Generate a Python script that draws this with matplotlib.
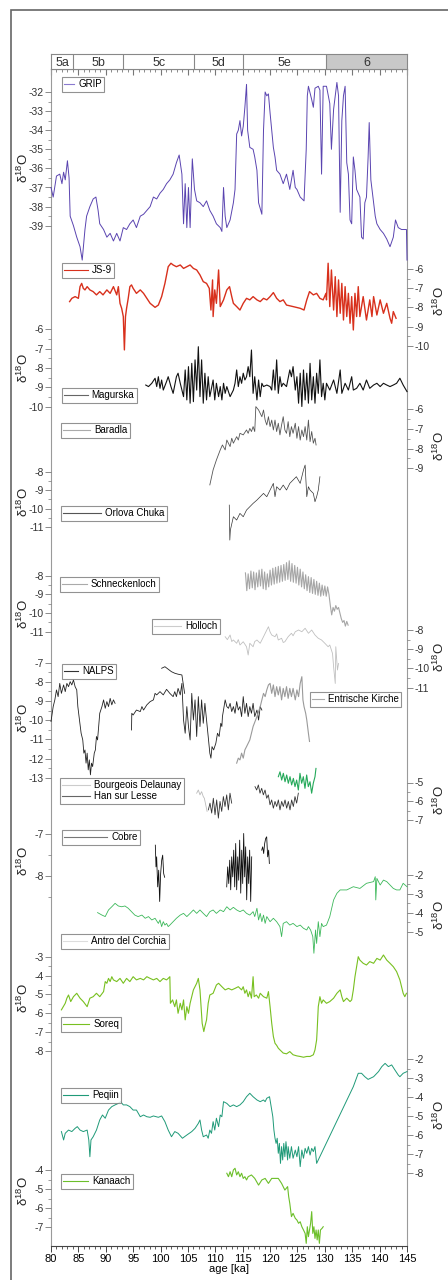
import numpy as np
import matplotlib
matplotlib.use('Agg')
import matplotlib.pyplot as plt
from matplotlib.ticker import MultipleLocator
from matplotlib.lines import Line2D
from matplotlib.patches import Rectangle

plt.rcParams['font.family'] = ['Liberation Sans', 'DejaVu Sans']
plt.rcParams['axes.unicode_minus'] = False
plt.rcParams['mathtext.default'] = 'regular'

# ---- data: columns = age [ka], d18O ----
stage_names = ['5a', '5b', '5c', '5d', '5e', '6']
stage_bounds = [80, 84.1, 93.2, 106.2, 115.1, 130.2, 145]

grip = np.array([
    [80.0, -37.0], [80.4, -37.5], [81.0, -36.4], [81.6, -36.3], [82.0, -36.8], [82.3, -36.2],
    [82.6, -36.6], [83.0, -35.6], [83.3, -36.5], [83.5, -38.5], [84.1, -39.0], [84.7, -39.6],
    [85.3, -40.1], [85.7, -40.8], [86.2, -39.2], [86.5, -38.5], [87.1, -38.0], [87.7, -37.6],
    [88.2, -37.5], [88.6, -38.2], [88.9, -38.9], [89.6, -39.2], [90.2, -39.6], [90.8, -39.4],
    [91.4, -39.8], [92.0, -39.4], [92.6, -39.8], [93.2, -39.1], [93.8, -39.2], [94.4, -38.9],
    [95.0, -38.7], [95.6, -39.1], [96.3, -38.5], [96.9, -38.4], [97.5, -38.2], [98.1, -38.0],
    [98.7, -37.5], [99.3, -37.6], [99.9, -37.3], [100.5, -37.1], [101.1, -36.8], [101.7, -36.6],
    [102.3, -36.3], [102.9, -35.7], [103.4, -35.3], [103.9, -36.3], [104.2, -38.9], [104.5, -36.8],
    [104.8, -39.1], [105.1, -37.0], [105.4, -39.1], [105.8, -35.5], [106.2, -37.1], [106.6, -37.7],
    [107.2, -37.8], [107.8, -38.0], [108.4, -37.7], [109.0, -38.2], [109.6, -38.5], [110.2, -38.9],
    [110.9, -39.1], [111.2, -39.3], [111.5, -37.0], [111.8, -38.5], [112.1, -39.1], [112.7, -38.7],
    [113.3, -37.8], [113.6, -37.1], [113.9, -34.2], [114.2, -34.0], [114.5, -33.5], [114.8, -34.3],
    [115.1, -33.8], [115.4, -32.8], [115.7, -31.6], [115.9, -34.0], [116.3, -34.9], [116.9, -35.0],
    [117.2, -35.4], [117.6, -36.1], [117.9, -37.8], [118.5, -38.4], [118.8, -34.0], [119.1, -32.0],
    [119.4, -32.2], [119.7, -32.1], [120.0, -33.1], [120.3, -34.0], [120.6, -34.9], [120.9, -35.4],
    [121.2, -36.1], [121.8, -36.3], [122.4, -36.8], [123.0, -36.3], [123.6, -37.1], [124.2, -36.1],
    [124.6, -37.0], [124.9, -37.1], [125.5, -37.5], [126.2, -37.7], [126.6, -35.0], [126.8, -32.2],
    [127.0, -31.7], [127.6, -32.4], [127.9, -32.8], [128.2, -31.8], [128.8, -31.7], [129.1, -31.9],
    [129.4, -36.3], [129.7, -31.7], [130.3, -31.7], [130.9, -32.6], [131.2, -35.0], [131.6, -32.9],
    [132.2, -31.5], [132.5, -32.2], [132.8, -38.3], [133.1, -33.5], [133.4, -32.2], [133.7, -31.7],
    [134.0, -35.7], [134.3, -36.3], [134.6, -38.7], [134.9, -38.9], [135.2, -35.4], [135.5, -36.1],
    [135.8, -37.1], [136.4, -37.5], [136.7, -39.6], [137.0, -39.7], [137.3, -37.8], [137.6, -37.5],
    [137.9, -35.4], [138.1, -33.6], [138.4, -36.6], [138.9, -37.8], [139.2, -38.5], [139.5, -38.9],
    [140.1, -39.2], [140.7, -39.4], [141.3, -39.7], [141.9, -40.1], [142.5, -39.6], [142.9, -38.7],
    [143.4, -39.1], [144.0, -39.2], [144.6, -39.2], [144.9, -39.2], [145.0, -40.8],
])

js9 = np.array([
    [83.4, -7.70], [83.8, -7.53], [84.4, -7.44], [85.0, -7.53], [85.3, -6.92], [85.6, -6.75],
    [85.9, -7.01], [86.2, -7.09], [86.6, -6.92], [87.1, -7.09], [87.7, -7.18], [88.3, -7.35],
    [88.9, -7.18], [89.5, -7.35], [90.2, -7.09], [90.8, -7.27], [91.4, -6.92], [92.0, -7.35],
    [92.3, -6.92], [92.6, -7.79], [92.9, -8.05], [93.2, -8.48], [93.4, -10.22], [93.6, -8.48],
    [93.8, -8.05], [94.1, -7.53], [94.4, -6.92], [94.7, -6.83], [95.0, -7.01], [95.6, -7.27],
    [96.3, -7.09], [96.9, -7.27], [97.5, -7.53], [98.1, -7.79], [99.0, -8.00], [99.6, -7.88],
    [100.2, -7.44], [100.8, -6.75], [101.4, -5.88], [101.9, -5.70], [102.3, -5.79], [102.9, -5.88],
    [103.6, -5.79], [104.2, -5.97], [104.8, -5.88], [105.4, -5.79], [106.0, -5.97], [106.6, -6.05],
    [107.2, -6.31], [107.8, -6.66], [108.4, -6.75], [108.9, -7.01], [109.2, -8.14], [109.5, -6.57],
    [109.6, -8.48], [109.9, -7.09], [110.2, -7.79], [110.6, -6.05], [110.9, -7.96], [111.5, -7.61],
    [112.1, -7.09], [112.6, -6.92], [113.0, -7.44], [113.3, -7.79], [113.9, -7.96], [114.5, -8.14],
    [115.1, -7.79], [115.7, -7.53], [116.3, -7.61], [116.9, -7.44], [117.6, -7.61], [118.2, -7.70],
    [118.8, -7.53], [119.4, -7.61], [120.0, -7.44], [120.6, -7.23], [121.2, -7.53], [121.8, -7.70],
    [122.4, -7.61], [123.0, -7.88], [124.2, -7.96], [125.5, -8.05], [126.2, -8.14], [126.7, -7.61],
    [127.2, -7.18], [127.9, -7.35], [128.5, -7.27], [129.1, -7.53], [129.7, -7.61], [130.2, -7.27],
    [130.3, -7.61], [130.6, -5.70], [130.9, -7.96], [131.2, -6.05], [131.6, -8.14], [131.9, -6.40],
    [132.2, -8.48], [132.5, -6.57], [132.8, -8.31], [133.1, -6.75], [133.4, -8.66], [133.7, -6.92],
    [134.0, -8.48], [134.3, -7.27], [134.6, -8.83], [134.9, -7.44], [135.2, -9.18], [135.5, -7.27],
    [135.8, -8.48], [136.1, -6.92], [136.4, -8.48], [137.0, -7.44], [137.6, -8.66], [138.2, -7.61],
    [138.6, -8.48], [138.9, -7.44], [139.5, -8.40], [140.1, -7.61], [140.7, -8.31], [141.3, -7.79],
    [141.9, -8.57], [142.2, -8.83], [142.5, -8.22], [143.0, -8.57],
])

magurska = np.array([
    [97.3, -8.88], [97.8, -8.96], [98.4, -8.79], [99.0, -8.53], [99.3, -8.96], [99.6, -8.45],
    [99.9, -9.05], [100.2, -8.62], [100.5, -9.14], [101.1, -8.70], [101.4, -8.45], [101.9, -8.96],
    [102.3, -9.31], [102.9, -8.45], [103.2, -8.27], [103.6, -8.79], [104.2, -9.48], [104.5, -8.10],
    [104.8, -9.65], [105.1, -7.93], [105.4, -9.82], [105.7, -7.76], [106.0, -9.74], [106.3, -7.58],
    [106.6, -9.14], [106.9, -6.90], [107.2, -9.48], [107.5, -7.58], [107.8, -9.82], [108.1, -8.27],
    [108.4, -9.65], [108.7, -8.45], [109.0, -9.48], [109.6, -8.62], [109.9, -9.65], [110.2, -8.79],
    [110.6, -9.48], [110.9, -8.96], [111.2, -9.65], [111.5, -8.79], [111.8, -9.31], [112.1, -8.96],
    [112.7, -9.48], [113.3, -9.14], [113.6, -8.79], [113.9, -8.10], [114.2, -8.96], [114.5, -8.45],
    [114.8, -8.79], [115.1, -8.27], [115.4, -8.62], [115.7, -8.45], [116.0, -7.93], [116.3, -8.45],
    [116.6, -7.07], [116.9, -9.31], [117.2, -8.45], [117.6, -9.65], [117.9, -8.62], [118.2, -9.48],
    [118.5, -8.79], [118.8, -8.96], [119.4, -8.88], [120.0, -8.96], [120.3, -9.14], [120.6, -8.10],
    [120.9, -9.14], [121.2, -7.58], [121.5, -9.31], [121.8, -8.45], [122.1, -8.96], [122.4, -8.79],
    [123.0, -8.96], [123.6, -8.10], [123.9, -8.45], [124.2, -7.93], [124.6, -9.14], [124.9, -8.45],
    [125.2, -9.82], [125.5, -8.27], [125.8, -9.99], [126.1, -8.10], [126.4, -9.65], [126.7, -8.27],
    [127.0, -9.82], [127.3, -7.76], [127.6, -9.65], [127.9, -8.45], [128.2, -9.82], [128.5, -8.27],
    [128.8, -9.31], [129.1, -7.58], [129.4, -9.48], [129.7, -8.79], [130.0, -9.65], [130.3, -8.79],
    [130.9, -9.14], [131.6, -8.62], [132.2, -9.31], [132.8, -8.10], [133.1, -9.31], [133.7, -8.79],
    [134.3, -9.14], [134.9, -8.45], [135.2, -9.14], [135.8, -9.05], [136.4, -8.79], [137.0, -9.14],
    [137.6, -8.62], [138.2, -9.05], [138.9, -8.88], [139.5, -8.79], [140.1, -8.96], [140.7, -8.79],
    [141.3, -8.88], [141.9, -8.96], [142.5, -8.88], [143.1, -8.79], [143.7, -8.53], [144.3, -8.88],
    [145.0, -9.22],
])

baradla = np.array([
    [109.0, -9.84], [109.6, -9.08], [110.2, -8.58], [110.9, -8.07], [111.3, -7.82], [111.8, -8.07],
    [112.1, -7.57], [112.7, -7.90], [113.0, -7.48], [113.3, -7.73], [113.9, -7.40], [114.2, -7.57],
    [114.5, -7.23], [115.1, -7.31], [115.7, -7.06], [116.0, -7.23], [116.3, -6.98], [116.6, -7.14],
    [116.9, -6.89], [117.2, -7.14], [117.4, -5.88], [117.9, -6.05], [118.2, -6.22], [118.5, -6.39],
    [118.8, -6.05], [119.1, -6.56], [119.4, -6.81], [119.7, -6.39], [120.0, -6.89], [120.3, -6.56],
    [120.6, -7.06], [120.9, -6.56], [121.2, -7.14], [121.5, -6.72], [121.8, -7.31], [122.1, -6.81],
    [122.4, -6.39], [122.7, -7.06], [123.0, -7.23], [123.3, -6.64], [123.6, -7.40], [123.9, -6.89],
    [124.2, -7.23], [124.6, -6.72], [124.9, -7.48], [125.2, -6.89], [125.5, -7.57], [125.8, -7.06],
    [126.1, -7.40], [126.4, -6.89], [126.7, -7.57], [127.0, -6.56], [127.3, -7.65], [127.6, -7.14],
    [127.9, -7.73], [128.2, -7.48], [128.4, -7.82],
])

orlova = np.array([
    [112.55, -9.80], [112.65, -11.69], [112.75, -11.15], [113.3, -10.43], [113.9, -10.61],
    [114.5, -10.25], [115.1, -10.43], [115.7, -10.07], [116.3, -9.89], [116.9, -9.71],
    [117.6, -9.53], [118.2, -9.35], [118.8, -9.17], [119.4, -9.35], [120.0, -8.99],
    [120.6, -8.63], [120.9, -9.35], [121.2, -8.81], [121.8, -8.99], [122.4, -8.72],
    [123.0, -8.99], [123.6, -8.63], [124.2, -8.45], [124.8, -8.27], [125.5, -8.63],
    [126.1, -7.91], [126.4, -7.64], [126.7, -9.35], [127.0, -8.81], [127.3, -8.99],
    [127.9, -9.17], [128.2, -9.62], [128.5, -9.35], [128.8, -8.99], [129.1, -8.27],
])

schneckenloch = np.array([
    [115.50, -7.85], [115.75, -8.80], [116.00, -7.90], [116.25, -8.70], [116.50, -7.75], [116.75, -8.65],
    [117.00, -7.80], [117.25, -8.75], [117.50, -7.85], [117.75, -8.60], [118.00, -7.70], [118.25, -8.55],
    [118.50, -7.65], [118.75, -8.70], [119.00, -7.80], [119.25, -8.75], [119.50, -7.90], [119.75, -8.60],
    [120.00, -7.70], [120.25, -8.50], [120.50, -7.60], [120.75, -8.45], [121.00, -7.55], [121.25, -8.40],
    [121.50, -7.50], [121.75, -8.35], [122.00, -7.45], [122.25, -8.30], [122.50, -7.40], [122.75, -8.25],
    [123.00, -7.30], [123.25, -8.20], [123.50, -7.20], [123.75, -8.30], [124.00, -7.35], [124.25, -8.35],
    [124.50, -7.45], [124.75, -8.40], [125.00, -7.55], [125.25, -8.50], [125.50, -7.65], [125.75, -8.60],
    [126.00, -7.80], [126.25, -8.70], [126.50, -7.95], [126.75, -8.80], [127.00, -8.05], [127.25, -8.90],
    [127.50, -8.10], [127.75, -8.95], [128.00, -8.20], [128.25, -9.00], [128.50, -8.30], [128.75, -9.05],
    [129.00, -8.40], [129.25, -9.10], [129.50, -8.50], [129.75, -9.05], [130.00, -8.55], [130.25, -9.10],
    [130.50, -8.60], [130.75, -9.00], [131.00, -9.60], [131.25, -10.10], [131.50, -9.70], [131.75, -9.90],
    [132.00, -9.60], [132.25, -9.80], [132.50, -9.70], [132.75, -10.00], [133.00, -10.30], [133.25, -10.50],
    [133.50, -10.40], [133.75, -10.70], [134.00, -10.45], [134.25, -10.65],
])

holloch = np.array([
    [111.8, -8.35], [112.2, -8.50], [112.7, -8.26], [113.0, -8.60], [113.3, -8.52], [113.9, -8.69],
    [114.2, -8.50], [114.5, -8.78], [115.1, -8.61], [115.7, -8.87], [116.0, -9.30], [116.3, -8.69],
    [116.9, -8.87], [117.2, -8.60], [117.6, -8.52], [118.2, -8.69], [118.8, -8.35], [119.4, -8.00],
    [119.7, -7.83], [120.0, -8.10], [120.3, -8.26], [120.9, -8.35], [121.2, -8.20], [121.5, -8.52],
    [122.1, -8.43], [122.4, -8.65], [122.7, -8.61], [123.3, -8.35], [123.9, -8.17], [124.2, -8.30],
    [124.6, -8.09], [125.2, -8.00], [125.8, -8.09], [126.4, -7.91], [127.0, -8.17], [127.6, -8.00],
    [128.2, -8.26], [128.8, -8.43], [129.4, -8.52], [130.0, -8.69], [130.6, -8.87], [130.9, -8.78],
    [131.4, -9.22], [131.6, -9.91], [131.9, -10.78], [132.0, -8.87], [132.3, -10.08], [132.5, -9.74],
])

nalps = np.array([
    [80.0, -10.07], [80.4, -9.29], [80.7, -8.94], [81.0, -8.42], [81.3, -8.77], [81.6, -8.08],
    [81.9, -8.60], [82.3, -8.16], [82.6, -8.51], [82.9, -8.08], [83.2, -8.25], [83.5, -7.99],
    [83.8, -8.16], [84.1, -7.90], [84.4, -8.25], [84.7, -8.42], [84.9, -9.29], [85.2, -9.99],
    [85.5, -10.68], [85.8, -11.03], [86.0, -11.72], [86.2, -11.55], [86.4, -12.24], [86.6, -11.72],
    [86.8, -12.59], [87.0, -12.07], [87.2, -12.85], [87.4, -12.24], [87.6, -12.42], [87.9, -11.72],
    [88.1, -11.55], [88.3, -10.85], [88.5, -11.03], [88.8, -9.99], [88.9, -9.64], [89.3, -9.29],
    [89.6, -8.94], [89.9, -9.38], [90.2, -9.03], [90.5, -9.29], [90.8, -8.86], [91.1, -9.20],
    [91.4, -8.94], [91.7, -9.12],
    [np.nan, np.nan],
    [94.7, -10.51], [94.75, -9.64], [95.0, -9.73], [95.6, -9.47], [96.3, -9.55], [96.6, -9.29],
    [96.9, -9.47], [97.5, -9.20], [98.1, -9.03], [98.7, -8.94], [99.0, -8.60], [99.3, -8.68],
    [99.9, -8.51], [100.5, -8.68], [101.1, -8.39], [101.7, -8.60], [102.3, -8.77], [102.6, -8.51],
    [102.9, -8.77], [103.2, -8.34], [103.6, -8.68], [103.9, -8.08], [104.2, -9.99], [104.5, -10.68],
    [104.8, -9.29], [105.1, -10.33], [105.4, -11.03], [105.7, -8.60], [106.0, -9.99], [106.3, -8.94],
    [106.6, -10.85], [106.9, -8.77], [107.2, -10.33], [107.5, -8.94], [107.8, -10.16], [108.1, -9.12],
    [108.4, -9.99], [108.7, -10.85], [109.0, -11.72], [109.2, -11.98], [109.4, -11.38], [109.7, -11.55],
    [110.1, -11.20], [110.4, -10.68], [110.7, -10.85], [111.0, -10.16], [111.2, -10.33], [111.3, -9.81],
    [111.6, -9.29], [111.8, -8.94], [112.1, -9.29], [112.4, -9.38], [112.7, -9.12], [113.0, -9.55],
    [113.3, -9.29], [113.6, -9.64], [113.9, -9.03], [114.2, -9.47], [114.5, -9.29], [114.8, -9.81],
    [115.1, -8.77], [115.4, -9.64], [115.7, -9.12], [116.0, -9.81], [116.3, -9.29], [116.6, -9.64],
    [116.9, -9.12], [117.2, -9.81], [117.6, -9.47], [117.9, -9.99], [118.2, -9.29], [118.5, -9.47],
    [np.nan, np.nan],
    [100.2, -7.29], [100.8, -7.21], [101.4, -7.34], [102.0, -7.47], [102.6, -7.55], [103.2, -7.60],
    [103.9, -7.64], [104.4, -8.60],
])

entrische = np.array([
    [113.9, -12.24], [114.2, -11.98], [114.5, -12.07], [114.8, -11.72], [115.1, -11.98], [115.4, -11.55],
    [115.7, -11.38], [116.3, -11.03], [116.6, -10.68], [116.9, -10.33], [117.6, -9.81], [118.2, -9.29],
    [118.8, -8.60], [119.1, -8.77], [119.4, -8.42], [119.7, -8.16], [120.0, -8.08], [120.3, -8.60],
    [120.6, -8.16], [120.9, -8.77], [121.2, -8.25], [121.5, -8.68], [121.8, -8.25], [122.1, -8.94],
    [122.4, -8.34], [122.7, -8.77], [123.0, -8.25], [123.3, -8.86], [123.6, -8.34], [123.9, -8.77],
    [124.2, -8.34], [124.6, -8.94], [124.9, -8.42], [125.2, -8.77], [125.5, -8.08], [125.8, -7.73],
    [126.0, -8.94], [126.2, -9.29], [126.5, -9.64], [126.7, -9.99], [127.0, -10.68], [127.2, -11.11],
])

bourgeois = np.array([
    [106.6, -5.57], [106.9, -5.40], [107.2, -5.66], [107.5, -5.49], [107.8, -5.75], [108.0, -5.84],
    [108.5, -6.54],
])

han_sur_lesse = np.array([
    [108.73, -6.46], [109.03, -6.10], [109.34, -6.63], [109.64, -5.84], [109.95, -6.72], [110.25, -5.93],
    [110.56, -6.90], [110.86, -6.01], [111.17, -6.54], [111.47, -5.75], [111.77, -6.28], [112.08, -5.66],
    [112.38, -6.46], [112.68, -5.57], [112.99, -6.10],
    [np.nan, np.nan],
    [117.25, -5.22], [117.55, -5.40], [117.86, -5.13], [118.16, -5.57], [118.47, -5.31], [118.77, -5.66],
    [119.08, -5.40], [119.38, -5.84], [119.68, -5.66], [119.99, -6.19], [120.29, -5.93], [120.60, -6.37],
    [120.90, -6.01], [121.21, -6.28], [121.51, -5.93], [121.81, -6.46], [122.12, -6.01], [122.42, -6.28],
    [122.73, -5.93], [123.03, -6.37], [123.33, -6.01], [123.64, -6.46], [123.94, -5.93], [124.25, -6.28],
    [124.55, -5.75], [124.85, -6.10], [125.16, -5.57],
])

green_record = np.array([
    [121.51, -4.69], [121.81, -4.43], [122.12, -4.87], [122.42, -4.51], [122.73, -4.96], [123.03, -4.60],
    [123.33, -5.04], [123.64, -4.69], [123.94, -5.13], [124.25, -4.78], [124.55, -5.22], [124.85, -4.87],
    [125.16, -5.40], [125.46, -4.51], [125.77, -5.04], [126.07, -4.69], [126.37, -5.31], [126.68, -4.60],
    [126.98, -5.22], [127.29, -4.96], [127.59, -5.57], [127.89, -5.04], [128.20, -4.69], [128.38, -4.25],
])

cobre = np.array([
    [99.05, -7.26], [99.17, -7.78], [99.29, -7.54], [99.48, -8.26], [99.66, -7.86], [99.84, -8.61],
    [100.02, -7.94], [100.21, -7.62], [100.39, -7.50], [100.57, -7.94], [100.75, -8.03],
    [np.nan, np.nan],
    [112.08, -8.26], [112.26, -7.78], [112.45, -8.18], [112.63, -7.62], [112.81, -8.33], [112.99, -7.54],
    [113.18, -8.02], [113.36, -7.38], [113.54, -8.26], [113.72, -7.22], [113.90, -8.33], [114.09, -7.54],
    [114.27, -8.10], [114.45, -7.14], [114.64, -8.41], [114.82, -7.38], [115.00, -8.18], [115.18, -6.98],
    [115.36, -8.02], [115.54, -7.30], [115.73, -8.57], [115.91, -7.54], [116.09, -8.18], [116.27, -7.38],
    [116.46, -8.61], [116.64, -7.54],
    [np.nan, np.nan],
    [118.47, -7.38], [118.65, -7.30], [118.83, -7.46], [119.01, -7.22], [119.20, -7.10], [119.38, -7.06],
    [119.56, -7.54], [119.74, -7.38], [119.87, -7.70],
])

corchia = np.array([
    [88.5, -3.99], [89.3, -4.12], [89.9, -4.20], [90.5, -3.85], [91.1, -3.68], [91.7, -3.50],
    [92.3, -3.64], [92.9, -3.68], [93.5, -3.64], [94.1, -3.76], [94.7, -3.94], [95.3, -4.12],
    [95.9, -4.20], [96.6, -4.12], [97.2, -4.29], [97.8, -4.20], [98.4, -4.38], [99.0, -4.29],
    [99.6, -4.56], [99.9, -4.38], [100.2, -4.73], [100.5, -4.47], [100.8, -4.65], [101.1, -4.56],
    [101.4, -4.73], [101.7, -4.65], [102.3, -4.47], [102.9, -4.29], [103.6, -4.12], [104.2, -4.03],
    [104.8, -4.20], [105.4, -4.03], [106.0, -3.85], [106.6, -4.03], [107.2, -3.85], [107.8, -4.03],
    [108.4, -4.20], [109.0, -3.94], [109.6, -3.85], [110.2, -4.03], [110.9, -3.85], [111.5, -3.94],
    [112.1, -3.68], [112.7, -3.85], [113.3, -3.71], [113.9, -3.85], [114.5, -3.94], [115.1, -3.85],
    [115.7, -4.03], [116.3, -4.12], [116.9, -3.94], [117.2, -4.20], [117.6, -3.76], [117.9, -4.38],
    [118.2, -4.03], [118.5, -4.47], [118.8, -4.12], [119.1, -4.56], [119.4, -4.20], [120.0, -4.47],
    [120.6, -4.29], [121.2, -4.47], [121.8, -4.73], [122.1, -5.26], [122.4, -4.56], [123.0, -4.47],
    [123.6, -4.65], [124.2, -4.56], [124.9, -4.73], [125.5, -4.65], [126.1, -4.82], [126.7, -4.91],
    [127.0, -4.73], [127.4, -4.91], [127.8, -5.26], [128.0, -6.14], [128.3, -4.91], [128.5, -5.62],
    [128.8, -4.47], [129.1, -5.26], [129.4, -4.56], [129.7, -4.73], [130.3, -4.65], [130.9, -4.20],
    [131.6, -3.32], [132.2, -2.97], [132.8, -2.79], [134.0, -2.79], [135.2, -2.62], [136.4, -2.71],
    [137.6, -2.44], [138.9, -2.35], [139.2, -2.09], [139.3, -3.32], [139.5, -2.18], [140.1, -2.53],
    [140.7, -2.27], [141.3, -2.35], [141.9, -2.53], [142.5, -2.71], [143.1, -2.79], [143.7, -2.79],
    [144.3, -2.44], [145.0, -2.62],
])

soreq = np.array([
    [81.9, -5.82], [82.6, -5.47], [82.9, -5.20], [83.2, -5.03], [83.6, -5.38], [84.1, -5.12],
    [84.7, -4.94], [85.3, -5.20], [85.9, -5.38], [86.6, -5.65], [87.1, -5.20], [87.7, -5.12],
    [88.3, -4.94], [88.9, -5.12], [89.6, -4.85], [89.9, -4.32], [90.2, -4.41], [90.5, -4.15],
    [90.8, -4.32], [91.1, -4.06], [91.4, -4.23], [92.0, -4.32], [92.6, -4.15], [93.2, -4.41],
    [93.8, -4.15], [94.4, -4.32], [95.0, -4.06], [95.6, -4.23], [96.3, -4.15], [96.9, -4.23],
    [97.5, -4.06], [98.1, -4.15], [98.7, -4.23], [99.3, -4.15], [99.9, -4.32], [100.5, -4.15],
    [101.1, -4.23], [101.4, -4.15], [101.7, -4.06], [101.8, -5.47], [102.2, -5.29], [102.6, -5.65],
    [102.9, -5.29], [103.2, -6.00], [103.6, -5.47], [103.9, -5.82], [104.2, -5.29], [104.5, -6.35],
    [104.8, -5.65], [105.1, -6.00], [105.4, -5.47], [105.7, -5.12], [106.0, -4.76], [106.3, -4.59],
    [106.6, -4.41], [106.9, -4.15], [107.2, -4.76], [107.4, -5.65], [107.6, -6.53], [107.9, -6.97],
    [108.1, -6.70], [108.4, -6.35], [108.7, -5.47], [109.0, -5.03], [109.6, -4.94], [110.2, -4.50],
    [110.6, -4.41], [111.2, -4.59], [111.8, -4.76], [112.4, -4.68], [113.0, -4.76], [113.6, -4.68],
    [114.2, -4.59], [114.8, -4.76], [115.1, -4.59], [115.4, -4.94], [115.7, -4.76], [116.0, -5.12],
    [116.3, -4.85], [116.6, -5.20], [116.9, -4.06], [117.1, -5.12], [117.5, -5.03], [117.9, -5.20],
    [118.2, -4.94], [118.8, -5.12], [119.4, -5.20], [119.7, -4.85], [120.0, -5.65], [120.3, -6.53],
    [120.6, -7.23], [120.9, -7.59], [121.2, -7.70], [121.5, -7.85], [121.8, -7.94], [122.4, -8.11],
    [123.0, -8.15], [123.6, -8.03], [124.2, -8.20], [124.9, -8.26], [125.5, -8.29], [126.1, -8.33],
    [126.7, -8.29], [127.3, -8.29], [127.9, -8.20], [128.2, -7.94], [128.5, -7.41], [128.6, -6.88],
    [128.8, -5.65], [129.1, -5.12], [129.4, -5.47], [129.7, -5.29], [130.3, -5.47], [130.9, -5.38],
    [131.6, -5.20], [132.2, -4.94], [132.8, -4.76], [133.1, -5.12], [133.4, -5.38], [134.0, -5.20],
    [134.6, -5.38], [134.9, -5.29], [135.2, -4.76], [135.5, -4.06], [135.8, -3.53], [136.1, -3.00],
    [136.4, -3.18], [137.0, -3.35], [137.6, -3.44], [138.2, -3.26], [138.9, -3.35], [139.5, -3.09],
    [140.1, -3.18], [140.7, -2.91], [141.3, -3.18], [141.9, -3.35], [142.5, -3.53], [143.1, -3.79],
    [143.7, -4.23], [144.0, -4.59], [144.3, -4.94], [144.6, -5.12], [144.9, -4.94],
])

peqiin = np.array([
    [81.9, -5.81], [82.3, -6.25], [82.6, -5.90], [83.2, -5.73], [83.8, -5.81], [84.4, -5.64],
    [84.8, -5.55], [85.3, -5.73], [85.9, -5.81], [86.6, -5.73], [86.9, -6.25], [87.1, -7.13],
    [87.3, -6.25], [87.7, -6.08], [88.3, -5.73], [88.9, -5.20], [89.4, -4.94], [89.9, -5.11],
    [90.5, -4.68], [91.1, -4.50], [91.7, -4.41], [92.3, -4.33], [92.7, -4.24], [93.2, -4.41],
    [93.8, -4.41], [94.4, -4.50], [95.0, -4.68], [95.6, -4.68], [96.3, -5.03], [96.9, -4.94],
    [97.5, -5.03], [98.1, -5.06], [98.7, -4.99], [99.6, -5.06], [100.2, -4.99], [100.8, -5.29],
    [101.4, -5.73], [102.0, -6.08], [102.6, -5.81], [103.2, -5.90], [104.0, -6.16], [104.8, -5.99],
    [105.7, -5.81], [106.3, -5.64], [106.9, -5.38], [107.2, -5.20], [107.5, -5.73], [107.8, -6.08],
    [108.4, -5.99], [108.7, -6.16], [109.0, -5.73], [109.3, -5.90], [109.6, -5.29], [109.9, -5.73],
    [110.2, -5.11], [110.6, -5.55], [110.9, -4.94], [111.2, -5.03], [111.5, -4.24], [112.1, -4.33],
    [112.7, -4.50], [113.3, -4.41], [113.9, -4.50], [114.5, -4.41], [115.1, -4.24], [115.7, -3.98],
    [116.3, -3.80], [116.9, -3.98], [117.6, -4.15], [118.2, -4.24], [118.8, -4.15], [119.1, -4.24],
    [119.4, -4.06], [119.9, -3.98], [120.1, -4.33], [120.5, -5.03], [120.7, -5.73], [120.9, -6.16],
    [121.1, -6.43], [121.3, -6.16], [121.5, -6.95], [121.7, -6.43], [121.9, -7.48], [122.1, -6.60],
    [122.3, -7.30], [122.5, -6.43], [122.7, -7.13], [122.9, -6.34], [123.2, -7.30], [123.3, -6.60],
    [123.6, -7.21], [123.9, -6.60], [124.2, -7.21], [124.6, -6.78], [124.9, -7.13], [125.2, -6.60],
    [125.5, -7.65], [125.8, -6.78], [126.1, -7.21], [126.4, -6.69], [126.7, -6.95], [127.0, -6.60],
    [127.3, -7.04], [127.6, -6.69], [127.9, -6.86], [128.2, -6.60], [128.5, -7.48], [135.2, -3.45],
    [136.1, -2.75], [136.7, -2.75], [137.3, -2.93], [137.9, -3.07], [138.9, -2.93], [139.8, -2.66],
    [140.4, -2.40], [141.0, -2.23], [141.6, -2.40], [142.2, -2.31], [142.8, -2.58], [143.4, -2.84],
    [143.7, -2.93], [144.3, -2.75], [145.0, -2.66],
])

kanaach = np.array([
    [112.1, -4.17], [112.4, -4.35], [112.7, -4.09], [113.0, -4.35], [113.3, -4.00], [113.6, -3.91],
    [113.9, -4.26], [114.2, -4.09], [114.5, -4.35], [114.8, -4.17], [115.1, -4.44], [115.4, -4.35],
    [115.7, -4.52], [116.0, -4.35], [116.6, -4.26], [117.2, -4.44], [117.9, -4.79], [118.5, -4.52],
    [119.1, -4.44], [119.7, -4.70], [120.3, -4.44], [120.9, -4.44], [121.5, -4.44], [122.1, -4.70],
    [122.7, -5.05], [123.2, -4.87], [123.4, -5.40], [123.6, -5.75], [123.9, -6.44], [124.2, -6.27],
    [124.6, -6.53], [124.9, -6.62], [125.2, -6.79], [125.5, -6.71], [125.8, -6.97], [126.1, -7.14],
    [126.4, -7.32], [126.6, -7.84], [126.8, -6.97], [127.0, -7.49], [127.2, -7.14], [127.4, -6.79],
    [127.6, -6.18], [127.8, -7.32], [128.0, -6.97], [128.2, -7.58], [128.4, -7.14], [128.6, -7.66],
    [128.8, -7.14], [129.0, -7.84], [129.2, -7.14], [129.5, -7.05], [129.7, -6.97],
])

# ---- layout (pixel positions of the reference) ----
W, H = 448, 1280
X0, X1 = 51, 407
AX_L, AX_W = X0 / W, (X1 - X0) / W
Y_TOP, Y_BOT = 69.3, 1246

fig = plt.figure(figsize=(W / 100, H / 100), dpi=100)

# outer frame
fig.add_artist(Rectangle((11 / W, -0.5), 1.5, 1.5 - 10 / H, transform=fig.transFigure,
                         fill=False, edgecolor='#666666', lw=1.2, clip_on=False))

main = fig.add_axes([AX_L, 1 - Y_BOT / H, AX_W, (Y_BOT - Y_TOP) / H])
main.set_xlim(80, 145)
main.set_ylim(0, 1)
main.set_yticks([])
main.xaxis.set_major_locator(MultipleLocator(5))
main.xaxis.set_minor_locator(MultipleLocator(1))
main.tick_params(axis='x', which='major', length=4, width=0.7, labelsize=8, pad=1.5, color='#444')
main.tick_params(axis='x', which='minor', length=2, width=0.6, color='#444')
for s in ['left', 'right', 'top']:
    main.spines[s].set_color('#9a9a9a')
    main.spines[s].set_linewidth(0.8)
main.spines['bottom'].set_color('#444')
main.spines['bottom'].set_linewidth(0.8)
main.set_xlabel('age [ka]', fontsize=8, labelpad=0.5)
top = main.secondary_xaxis('top')
top.xaxis.set_major_locator(MultipleLocator(5))
top.xaxis.set_minor_locator(MultipleLocator(1))
top.tick_params(axis='x', which='both', direction='in', labeltop=False, color='#777')
top.tick_params(axis='x', which='major', length=4)
top.tick_params(axis='x', which='minor', length=2)
top.spines['top'].set_visible(False)

# MIS stage bar
bar = fig.add_axes([AX_L, 1 - Y_TOP / H, AX_W, 15 / H])
bar.set_xlim(80, 145)
bar.set_ylim(0, 1)
bar.set_xticks([])
bar.set_yticks([])
for s in bar.spines.values():
    s.set_color('#888888')
    s.set_linewidth(0.8)
for i, name in enumerate(stage_names):
    a, b = stage_bounds[i], stage_bounds[i + 1]
    if name == '6':
        bar.axvspan(a, b, color='#c8c8c8', lw=0)
    if i > 0:
        bar.axvline(a, color='#888888', lw=0.8)
    bar.text((a + b) / 2, 0.45, name, ha='center', va='center', fontsize=9, color='#333')


def panel(lo, hi, y_top, y_bot, side, label_y):
    ax = fig.add_axes([AX_L, 1 - y_bot / H, AX_W, (y_bot - y_top) / H])
    ax.set_xlim(80, 145)
    ax.set_ylim(lo, hi)
    ax.patch.set_visible(False)
    for s in ax.spines.values():
        s.set_visible(False)
    ax.tick_params(axis='x', which='both', bottom=False, labelbottom=False)
    ax.yaxis.set_major_locator(MultipleLocator(1))
    ax.yaxis.set_minor_locator(MultipleLocator(0.5))
    if side == 'right':
        ax.yaxis.tick_right()
    ax.tick_params(axis='y', which='major', length=4, width=0.6, color='#777',
                   labelsize=7.5, labelcolor='#333', pad=1.2)
    ax.tick_params(axis='y', which='minor', length=2, width=0.5, color='#777')
    lx = 23.5 if side == 'left' else 439
    fig.text(lx / W, 1 - label_y / H, 'δ$^{18}$O', rotation=90, ha='center', va='center',
             fontsize=9.5, color='#222')
    return ax


def trace(ax, d, color, lw=0.6):
    ax.plot(d[:, 0], d[:, 1], color=color, lw=lw, clip_on=False)


def legend(entries, x, y, hl):
    handles = [Line2D([], [], color=c, lw=0.8) for _, c in entries]
    leg = fig.legend(handles, [n for n, _ in entries], loc='upper left',
                     bbox_to_anchor=(x / W, 1 - y / H), bbox_transform=fig.transFigure,
                     fontsize=7, frameon=True, fancybox=False, edgecolor='#777777',
                     handlelength=hl, handletextpad=0.4, borderpad=0.25,
                     borderaxespad=0, labelspacing=0.1)
    leg.get_frame().set_linewidth(0.8)


ax = panel(-39, -32, 92, 225.7, 'left', 168)
trace(ax, grip, '#5a44b0', 0.7)
legend([('GRIP', '#8a7ad0')], 62, 77, 1.0)

ax = panel(-10, -6, 269, 345.7, 'right', 301)
trace(ax, js9, '#d8301c', 1.0)
legend([('JS-9', '#d8301c')], 62, 263, 2.4)

ax = panel(-10, -6, 329.3, 406.7, 'left', 368)
trace(ax, magurska, '#111111', 0.8)
legend([('Magurska', '#666666')], 62, 388, 2.4)

ax = panel(-9, -6, 409, 468.3, 'right', 446)
trace(ax, baradla, '#555555', 0.6)
legend([('Baradla', '#aaaaaa')], 61, 423, 2.75)

ax = panel(-11, -8, 471.7, 527.3, 'left', 502)
trace(ax, orlova, '#333333', 0.5)
legend([('Orlova Chuka', '#555555')], 61, 506, 3.9)

ax = panel(-11, -8, 575.7, 631.7, 'left', 614)
trace(ax, schneckenloch, '#a6a6a6', 0.8)
legend([('Schneckenloch', '#aaaaaa')], 60, 577, 2.5)

ax = panel(-11, -8, 630, 687.7, 'right', 657)
trace(ax, holloch, '#c0c0c0', 0.6)
legend([('Holloch', '#cccccc')], 152, 619, 2.75)

ax = panel(-13, -7, 662.7, 777.7, 'left', 718)
trace(ax, nalps, '#222222', 0.6)
trace(ax, entrische, '#9a9a9a', 0.8)
legend([('NALPS', '#333333')], 62, 664, 1.4)
legend([('Entrische Kirche', '#aaaaaa')], 310, 692, 1.2)

ax = panel(-7, -5, 782.5, 820, 'right', 800)
trace(ax, bourgeois, '#bbbbbb', 0.6)
trace(ax, han_sur_lesse, '#333333', 0.6)
trace(ax, green_record, '#25a95a', 0.8)
legend([('Bourgeois Delaunay', '#cccccc'), ('Han sur Lesse', '#666666')], 60, 778, 2.85)

ax = panel(-8.5, -7, 834.3, 896.9, 'left', 861)
trace(ax, cobre, '#111111', 0.6)
legend([('Cobre', '#777777')], 62, 830, 4.4)

ax = panel(-5, -2, 875, 931.7, 'right', 915)
trace(ax, corchia, '#3cb85a', 0.6)
legend([('Antro del Corchia', '#dddddd')], 61, 934, 2.45)

ax = panel(-8, -3, 956.7, 1051, 'left', 998)
trace(ax, soreq, '#78c020', 0.8)
legend([('Soreq', '#78c020')], 61, 1017, 2.65)

ax = panel(-8, -2, 1059, 1173.3, 'right', 1115)
trace(ax, peqiin, '#1f9a78', 0.7)
legend([('Peqiin', '#1f9a78')], 61, 1088, 2.55)

ax = panel(-7, -4, 1170, 1227.3, 'left', 1191)
trace(ax, kanaach, '#6cbf2a', 0.8)
legend([('Kanaach', '#6cbf2a')], 61, 1174, 2.55)

fig.savefig('out.png', dpi=100)
